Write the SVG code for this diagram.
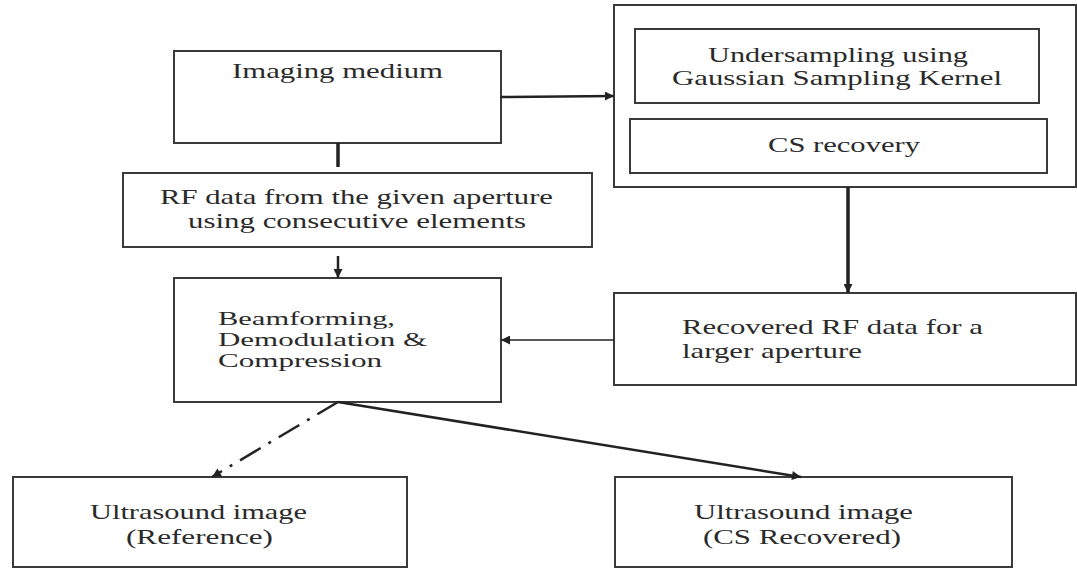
<svg xmlns="http://www.w3.org/2000/svg" width="1077" height="571" viewBox="0 0 1077 571">
<style>
  .box { fill: #ffffff; stroke: #3a3a3a; stroke-width: 2; }
  .t { font-family: "Liberation Serif", "Times New Roman", serif; font-size: 22px; fill: #2a2a2a; }
  .s { font-size: 19px; }
  .c { text-anchor: middle; }
  .ln { fill: none; stroke: #222222; }
</style>
<defs>
  <marker id="ah" viewBox="0 0 10 10" refX="10" refY="5" markerWidth="10" markerHeight="9" markerUnits="userSpaceOnUse" orient="auto">
    <path d="M0,0 L10,5 L0,10 z" fill="#222222"/>
  </marker>
</defs>
<rect x="0" y="0" width="1077" height="571" fill="#ffffff"/>
<g id="imaging-medium">
  <rect class="box" x="174" y="51" width="327" height="92"/>
  <text class="t c" x="337.5" y="78" textLength="211" lengthAdjust="spacingAndGlyphs">Imaging medium</text>
</g>
<g id="cs-block">
  <rect class="box" x="614" y="5" width="462" height="182"/>
</g>
<g id="undersampling">
  <rect class="box" x="635" y="29" width="404" height="74"/>
  <text class="t c" x="838" y="62" textLength="260" lengthAdjust="spacingAndGlyphs">Undersampling using</text>
  <text class="t c" x="837" y="85" textLength="330" lengthAdjust="spacingAndGlyphs">Gaussian Sampling Kernel</text>
</g>
<g id="cs-recovery">
  <rect class="box" x="630" y="119" width="417" height="54"/>
  <text class="t c" x="844" y="152" textLength="152" lengthAdjust="spacingAndGlyphs">CS recovery</text>
</g>
<g id="rf-data">
  <rect class="box" x="123" y="173" width="469" height="74"/>
  <text class="t c" x="356.5" y="204" textLength="393" lengthAdjust="spacingAndGlyphs">RF data from the given aperture</text>
  <text class="t c" x="357" y="228" textLength="338" lengthAdjust="spacingAndGlyphs">using consecutive elements</text>
</g>
<g id="beamforming">
  <rect class="box" x="174" y="278" width="327" height="124"/>
  <text class="t s" x="218" y="325" textLength="177" lengthAdjust="spacingAndGlyphs">Beamforming,</text>
  <text class="t s" x="218" y="346" textLength="209" lengthAdjust="spacingAndGlyphs">Demodulation &amp;</text>
  <text class="t s" x="218" y="367" textLength="164" lengthAdjust="spacingAndGlyphs">Compression</text>
</g>
<g id="recovered-rf">
  <rect class="box" x="614" y="293" width="462" height="92"/>
  <text class="t" x="682" y="334" textLength="301" lengthAdjust="spacingAndGlyphs">Recovered RF data for a</text>
  <text class="t" x="682" y="358" textLength="180" lengthAdjust="spacingAndGlyphs">larger aperture</text>
</g>
<g id="us-reference">
  <rect class="box" x="13" y="477" width="394" height="90"/>
  <text class="t c" x="198.5" y="519" textLength="217" lengthAdjust="spacingAndGlyphs">Ultrasound image</text>
  <text class="t c" x="199.5" y="544" textLength="147" lengthAdjust="spacingAndGlyphs">(Reference)</text>
</g>
<g id="us-cs">
  <rect class="box" x="615" y="477" width="397" height="90"/>
  <text class="t c" x="803.5" y="519" textLength="219" lengthAdjust="spacingAndGlyphs">Ultrasound image</text>
  <text class="t c" x="802" y="544" textLength="198" lengthAdjust="spacingAndGlyphs">(CS Recovered)</text>
</g>
<g id="connectors">
  <line class="ln" x1="501" y1="97" x2="614" y2="96" stroke-width="2.5" marker-end="url(#ah)"/>
  <line class="ln" x1="338" y1="143" x2="338" y2="167" stroke-width="3.5"/>
  <line class="ln" x1="338" y1="256" x2="338" y2="278" stroke-width="2.5" marker-end="url(#ah)"/>
  <line class="ln" x1="848" y1="187" x2="848" y2="293" stroke-width="3.5" marker-end="url(#ah)"/>
  <line class="ln" x1="614" y1="340" x2="501" y2="340" stroke-width="1.3" marker-end="url(#ah)"/>
  <line class="ln" x1="338" y1="402" x2="212" y2="477" stroke-width="2.5" stroke-dasharray="24 9 3 9" marker-end="url(#ah)"/>
  <line class="ln" x1="338" y1="402" x2="801" y2="477" stroke-width="2.5" marker-end="url(#ah)"/>
</g>
</svg>
